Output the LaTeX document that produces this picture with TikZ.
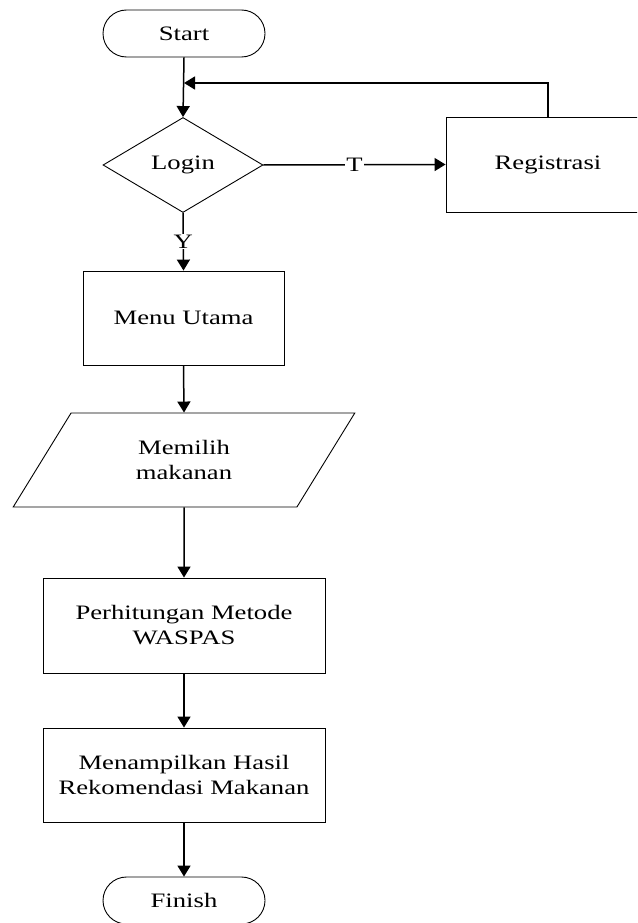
\documentclass[tikz,border=0pt]{standalone}
\usepackage{fontspec}
\setmainfont[FakeStretch=1.3]{Liberation Serif}
\usetikzlibrary{shapes.geometric,shapes.misc,arrows.meta}
\begin{document}
\begin{tikzpicture}[x=1pt,y=-1pt,
  base/.style={draw=black,line width=0.9pt,align=center,inner sep=0pt,
    font=\fontsize{20.5}{25}\selectfont},
  term/.style={base,rounded rectangle,minimum width=162pt,minimum height=47pt},
  procbox/.style={base,rectangle},
  decide/.style={base,diamond,minimum width=160pt,minimum height=95pt},
  iobox/.style={base,trapezium,trapezium left angle=58,trapezium right angle=122,
    trapezium stretches=true,minimum width=342pt,minimum height=94pt},
  conn/.style={line width=1.5pt,-{Triangle[length=11pt,width=13pt]}},
  lbl/.style={fill=white,inner sep=1pt,font=\fontsize{20.5}{25}\selectfont}]
\useasboundingbox (0,0) rectangle (637,923);
\clip (0,0) rectangle (637,923);
\node[term] (start) at (184,33.5) {Start};
\node[decide] (login) at (183,165) {Login};
\node[procbox,minimum width=204pt,minimum height=95pt] (reg) at (548,164.5) {Registrasi};
\node[procbox,minimum width=201pt,minimum height=94pt] (menu) at (183.5,318) {Menu Utama};
\node[iobox] (pilih) at (184,460) {Memilih\\makanan};
\node[procbox,minimum width=282pt,minimum height=95pt] (hitung) at (184,625.5) {Perhitungan Metode\\WASPAS};
\node[procbox,minimum width=282pt,minimum height=94pt] (tampil) at (184,775) {Menampilkan Hasil\\Rekomendasi Makanan};
\node[term] (finish) at (184,900.5) {Finish};
\coordinate (j) at (184,83);
\draw[conn] (start.south) -- (login.north);
\draw[conn] (reg.north) |- (j);
\draw[conn] (login.east) -- node[lbl] {T} (reg.west);
\draw[conn] (login.south) -- node[lbl] {Y} (menu.north);
\draw[conn] (menu.south) -- (pilih.north);
\draw[conn] (pilih.south) -- (hitung.north);
\draw[conn] (hitung.south) -- (tampil.north);
\draw[conn] (tampil.south) -- (finish.north);
\end{tikzpicture}
\end{document}
